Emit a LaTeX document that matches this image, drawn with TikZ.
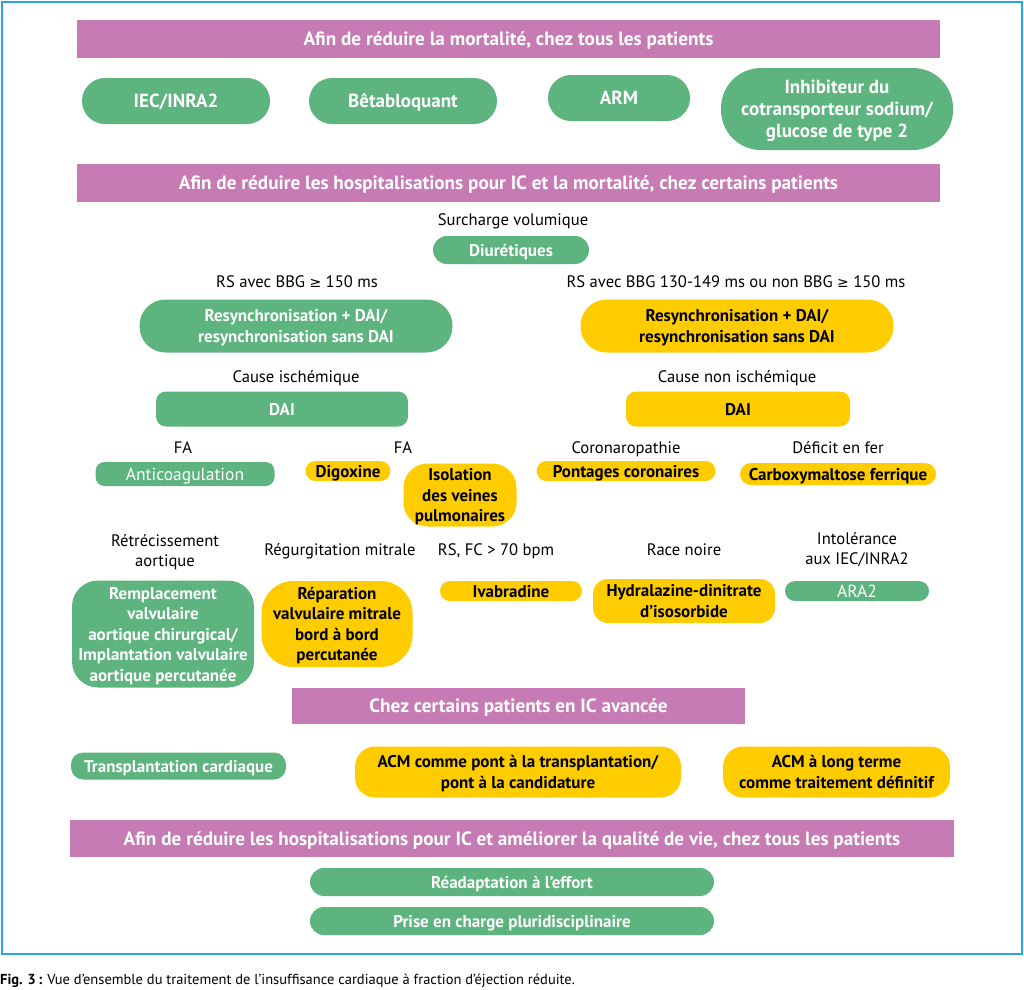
\documentclass[tikz,border=0pt]{standalone}
\usepackage{fontspec}
\setmainfont{PT Sans}
\newfontfamily\symf{DejaVu Sans}
\definecolor{pur}{HTML}{C67BB4}
\definecolor{grn}{HTML}{5DB47E}
\definecolor{yel}{HTML}{FFCC00}
\definecolor{frm}{HTML}{2AA5E0}
\newcommand{\mygeq}{{\symf\fontsize{14}{16}\selectfont ≥}}
\tikzset{
  bx/.style={inner sep=0pt, align=center, text depth=0pt, font=\bfseries\fontsize{17}{20.5}\selectfont},
  gbx/.style={bx, fill=grn, text=white},
  ybx/.style={bx, fill=yel, text=black},
  pbar/.style={inner sep=0pt, text depth=0pt, fill=pur, text=white, font=\bfseries\fontsize{19.2}{22}\selectfont},
  lab/.style={inner sep=0pt, align=center, text depth=0pt, font=\fontsize{16.6}{20}\selectfont},
  big/.style={font=\bfseries\fontsize{19}{22}\selectfont},
  thin/.style={font=\fontsize{17.5}{20}\selectfont}
}
\begin{document}
\begin{tikzpicture}[x=1pt,y=-1pt]
\path[use as bounding box] (0,0) rectangle (1024,989);
\draw[frm, line width=2.5] (2,2) rectangle (1022,954);

% section 1
\node[pbar, minimum width=863, minimum height=38] (p1) at (508.5,39) {Afin de réduire la mortalité, chez tous les patients};
\node[gbx, big, minimum width=188, minimum height=46, rounded corners=23] (iec) at (176,101) {IEC/INRA2};
\node[gbx, big, minimum width=188, minimum height=46, rounded corners=23] (beta) at (403,101) {Bêtabloquant};
\node[gbx, big, minimum width=142, minimum height=46, rounded corners=23] (arm) at (619,98) {ARM};
\node[gbx, big, minimum width=232, minimum height=82, rounded corners=40] (inh) at (837,109) {Inhibiteur du\\cotransporteur sodium/\\glucose de type 2};

% section 2
\node[pbar, minimum width=863, minimum height=38] (p2) at (508.5,183) {Afin de réduire les hospitalisations pour IC et la mortalité, chez certains patients};
\node[lab] (lsv) at (513,220) {Surcharge volumique};
\node[gbx, minimum width=156, minimum height=28, rounded corners=14] (diu) at (511,250) {Diurétiques};

\node[lab] (lrs1) at (297,282) {RS avec BBG \mygeq{} 150 ms};
\node[lab] (lrs2) at (736,282) {RS avec BBG 130-149 ms ou non BBG \mygeq{} 150 ms};
\node[gbx, minimum width=313, minimum height=53, rounded corners=26] (crt1) at (296,326) {Resynchronisation + DAI/\\resynchronisation sans DAI};
\node[ybx, minimum width=313, minimum height=53, rounded corners=26] (crt2) at (737,326) {Resynchronisation + DAI/\\resynchronisation sans DAI};

\node[lab] (lci) at (296,377) {Cause ischémique};
\node[lab] (lcni) at (737,377) {Cause non ischémique};
\node[gbx, minimum width=252, minimum height=35, rounded corners=10] (dai1) at (282,409) {DAI};
\node[ybx, minimum width=224, minimum height=35, rounded corners=10] (dai2) at (738,409) {DAI};

\node[lab] (lfa1) at (183,448) {FA};
\node[lab] (lfa2) at (403,448) {FA};
\node[lab] (lcor) at (626,448) {Coronaropathie};
\node[lab] (ldef) at (838,448) {Déficit en fer};
\node[gbx, thin, minimum width=179, minimum height=24, rounded corners=9] (anti) at (185,474) {Anticoagulation};
\node[ybx, minimum width=85, minimum height=20, rounded corners=10] (digo) at (348,471) {Digoxine};
\node[ybx, minimum width=113, minimum height=63, rounded corners=24] (iso) at (460,495) {Isolation\\des veines\\pulmonaires};
\node[ybx, minimum width=179, minimum height=20, rounded corners=10] (pont) at (626,471) {Pontages coronaires};
\node[ybx, minimum width=196, minimum height=22, rounded corners=11] (carb) at (838,474) {Carboxymaltose ferrique};

\node[lab] (lra) at (165,551) {Rétrécissement\\aortique};
\node[lab] (lrm) at (340,550) {Régurgitation mitrale};
\node[lab] (lfc) at (496,550) {RS, FC > 70 bpm};
\node[lab] (lrn) at (684,550) {Race noire};
\node[lab] (lint) at (857,549) {Intolérance\\aux IEC/INRA2};
\node[gbx, minimum width=182, minimum height=107, rounded corners=26] (remp) at (163,634) {Remplacement\\valvulaire\\aortique chirurgical/\\Implantation valvulaire\\aortique percutanée};
\node[ybx, minimum width=151, minimum height=86, rounded corners=32] (repa) at (337,624) {Réparation\\valvulaire mitrale\\bord à bord\\percutanée};
\node[ybx, minimum width=142, minimum height=20, rounded corners=10] (ivab) at (511,591) {Ivabradine};
\node[ybx, minimum width=182, minimum height=44, rounded corners=15] (hydr) at (684,601) {Hydralazine-dinitrate\\d’isosorbide};
\node[gbx, thin, minimum width=144, minimum height=20, rounded corners=10] (ara) at (857,591) {ARA2};

% section 3
\node[pbar, minimum width=453, minimum height=36] (p3) at (518.5,706) {Chez certains patients en IC avancée};
\node[gbx, minimum width=215, minimum height=27, rounded corners=12] (tran) at (178.5,766) {Transplantation cardiaque};
\node[ybx, minimum width=326, minimum height=51, rounded corners=20] (acm1) at (518,772) {ACM comme pont à la transplantation/\\pont à la candidature};
\node[ybx, minimum width=227, minimum height=51, rounded corners=20] (acm2) at (836.5,772) {ACM à long terme\\comme traitement définitif};

% section 4
\node[pbar, minimum width=884, minimum height=37] (p4) at (512,838.5) {Afin de réduire les hospitalisations pour IC et améliorer la qualité de vie, chez tous les patients};
\node[gbx, minimum width=404, minimum height=28, rounded corners=14] (read) at (512,882) {Réadaptation à l’effort};
\node[gbx, minimum width=404, minimum height=28, rounded corners=14] (prise) at (512,921) {Prise en charge pluridisciplinaire};

\node[anchor=west, inner sep=0pt, font=\fontsize{14.5}{17}\selectfont] (cap) at (0,981) {\textbf{Fig. 3\,:} Vue d’ensemble du traitement de l’insuffisance cardiaque à fraction d’éjection réduite.};
\end{tikzpicture}
\end{document}
